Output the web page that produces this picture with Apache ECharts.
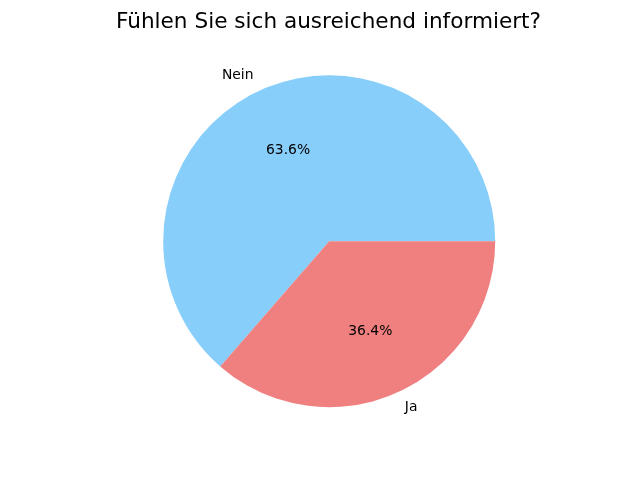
<!DOCTYPE html>
<html>
<head>
<meta charset="utf-8">
<script src="https://cdn.jsdelivr.net/npm/echarts@6/dist/echarts.min.js"></script>
<style>html,body{margin:0;padding:0;background:#fff}#c{width:640px;height:480px}</style>
</head>
<body>
<div id="c"></div>
<script>
const titleText = 'Fühlen Sie sich ausreichend informiert?';
const categories = ['Nein', 'Ja'];
const values = [63.6, 36.4];
const colors = ['#87CEFA', '#F08080'];

const R = 166;
const cx = 329.2, cy = 241.2;
const font = 'DejaVu Sans';

const data = categories.map((c, i) => ({ name: c, value: values[i], itemStyle: { color: colors[i] } }));
const dataT = categories.map((c, i) => ({ name: c, value: values[i] }));

const chart = echarts.init(document.getElementById('c'), null, { renderer: 'canvas' });
chart.setOption({
  animation: false,
  backgroundColor: '#fff',
  title: {
    text: titleText,
    left: 328.5,
    textAlign: 'center',
    top: 11,
    padding: 0,
    textStyle: { fontFamily: font, fontSize: 21.6, fontWeight: 'normal', color: '#000' }
  },
  series: [
    {
      type: 'pie',
      center: [cx, cy],
      radius: [0, R],
      startAngle: 0,
      clockwise: false,
      avoidLabelOverlap: false,
      silent: true,
      itemStyle: { borderWidth: 0 },
      emphasis: { disabled: true, scale: false },
      label: {
        show: true,
        position: 'outside',
        formatter: '{b}',
        fontFamily: font,
        fontSize: 13.9,
        color: '#000',
        distanceToLabelLine: 0
      },
      labelLine: { show: false, length: R * 0.1, length2: 0 },
      data: data
    },
    {
      type: 'pie',
      center: [cx, cy],
      radius: [0, R * 1.16],
      startAngle: 0,
      clockwise: false,
      avoidLabelOverlap: false,
      silent: true,
      z: 5,
      itemStyle: { color: 'rgba(0,0,0,0)', borderWidth: 0 },
      emphasis: { disabled: true, scale: false },
      label: {
        show: true,
        position: 'inside',
        formatter: p => p.percent.toFixed(1) + '%',
        fontFamily: font,
        fontSize: 13.9,
        color: '#000'
      },
      labelLine: { show: false },
      data: dataT
    }
  ]
});
</script>
</body>
</html>
